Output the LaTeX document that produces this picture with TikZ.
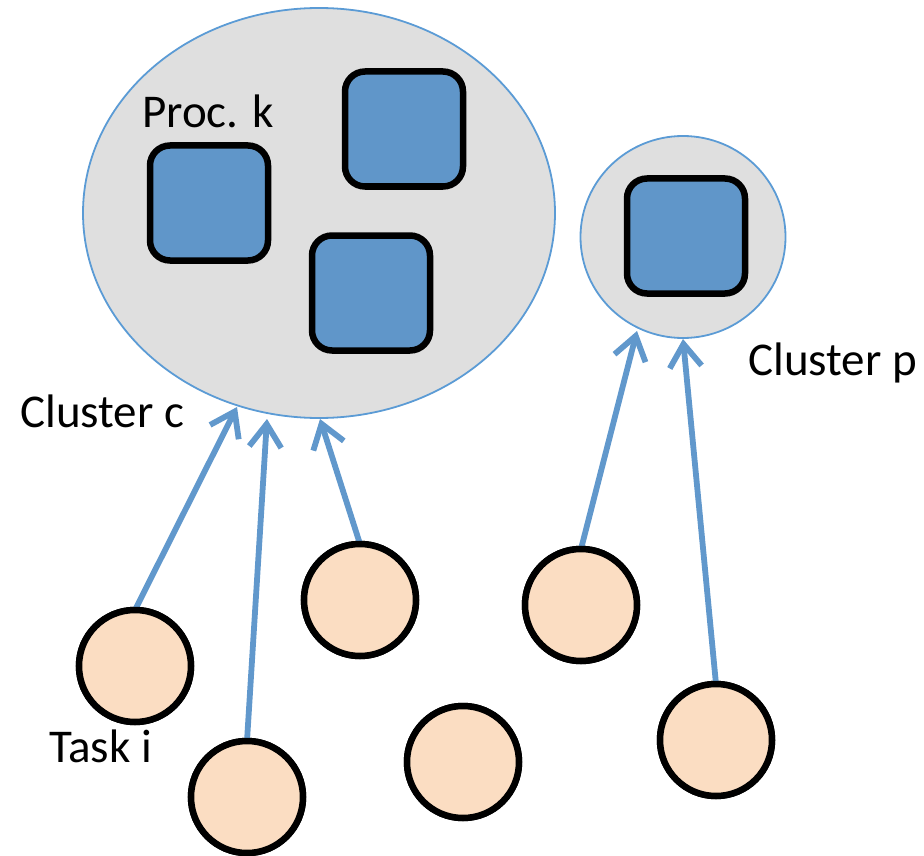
\documentclass[tikz,border=0pt]{standalone}
\usepackage{fontspec}
\setmainfont{Carlito}
\usetikzlibrary{arrows.meta,shapes.geometric}
\definecolor{clfill}{HTML}{DFDFDF}
\definecolor{clline}{HTML}{5B9BD5}
\definecolor{procfill}{HTML}{6096C9}
\definecolor{arrblue}{HTML}{6198CC}
\definecolor{taskfill}{HTML}{FBDDC2}
\tikzset{
  cluster/.style={ellipse, draw=clline, fill=clfill, line width=1.8pt, inner sep=0pt},
  proc/.style={draw=black, fill=procfill, line width=6.5pt, rounded corners=20pt, minimum width=118pt, minimum height=115pt, inner sep=0pt},
  task/.style={circle, draw=black, fill=taskfill, line width=6.5pt, minimum size=112pt, inner sep=0pt, outer sep=0pt},
  arr/.style={draw=arrblue, line width=5.8pt, -{Straight Barb[length=23pt, width=32pt]}},
  lbl/.style={anchor=base west, inner sep=0pt, font=\fontsize{47}{56}\selectfont}
}
\begin{document}
\begin{tikzpicture}[x=1pt, y=-1pt]
\useasboundingbox (0,0) rectangle (924,856);
% clusters
\node[cluster, minimum width=472pt, minimum height=410pt] (cc) at (319,213) {};
\node[cluster, minimum width=205pt, minimum height=202pt] (cp) at (683,237) {};
% processors
\node[proc] (p1) at (209,203) {};
\node[proc] (p2) at (404,129) {};
\node[proc] (p3) at (371,293) {};
\node[proc] (p4) at (686,236) {};
% arrow tips on cluster borders
\coordinate (ta) at (237,407);
\coordinate (tb) at (267,419);
\coordinate (tc) at (320,419);
\coordinate (te) at (637,331);
\coordinate (tf) at (683,339);
% tasks
\node[task] (A) at (135,666) {};
\node[task] (B) at (247,797) {};
\node[task] (C) at (360,600) {};
\node[task] (D) at (463,762) {};
\node[task] (E) at (581,605) {};
\node[task] (F) at (716,740) {};
% arrows
\draw[arr] (A.north) -- (ta);
\draw[arr] (B.north) -- (tb);
\draw[arr] (C.north) -- (tc);
\draw[arr] (E.north) -- (te);
\draw[arr] (F.north) -- (tf);
% redraw tasks on top of arrow starts
\node[task] at (A) {};
\node[task] at (B) {};
\node[task] at (C) {};
\node[task] at (D) {};
\node[task] at (E) {};
\node[task] at (F) {};
% labels
\node[lbl] (lk) at (142,128) {Proc. k};
\node[lbl] (lc) at (20,427) {Cluster c};
\node[lbl] (lp) at (748,375) {Cluster p};
\node[lbl] (li) at (49,762) {Task i};
\end{tikzpicture}
\end{document}
